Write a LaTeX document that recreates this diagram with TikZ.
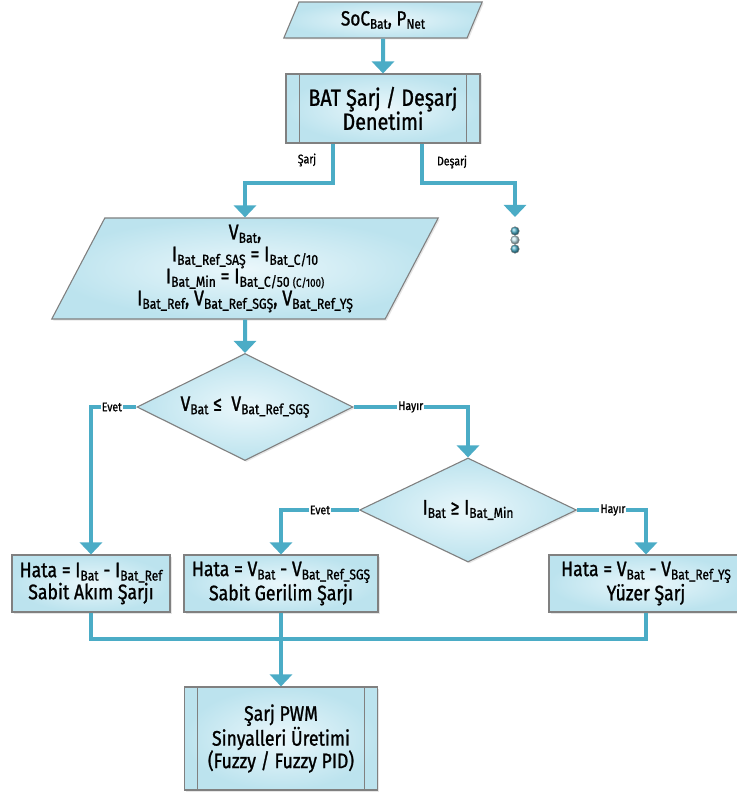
\documentclass[tikz,border=0pt]{standalone}
\usepackage{fontspec}
\setmainfont{Fira Sans}[FakeStretch=0.84, FakeBold=1.1]
\usetikzlibrary{arrows.meta,shapes.geometric,shadows}

\definecolor{flow}{HTML}{4BACC6}
\definecolor{edgegray}{HTML}{808080}
\definecolor{fillin}{HTML}{EAF7FB}
\definecolor{fillout}{HTML}{BCE3EE}

% small lowered subscript text
\newcommand\sbs[1]{\raisebox{-0.16em}{\scalebox{0.68}{#1}}}
\newcommand\fsz[2]{\fontsize{#1}{#2}\selectfont}

\begin{document}
\begin{tikzpicture}[x=1pt,y=-1pt,
  blk/.style={draw=edgegray, line width=1.1pt, inner color=fillin, outer color=fillout,
    drop shadow={opacity=0.2, shadow xshift=1.5pt, shadow yshift=-1.5pt},
    align=center, inner sep=0pt},
  procbox/.style={blk, rectangle, minimum width=194pt, minimum height=57pt, font=\fsz{21}{22}},
  subproc/.style={blk, rectangle, minimum width=194pt},
  iobox/.style={blk, trapezium, trapezium stretches=true},
  decision/.style={blk, diamond, aspect=2, font=\fsz{21}{24}},
  conn/.style={flow, line width=4pt, -{Triangle[width=22pt,length=12pt]}},
  joinline/.style={flow, line width=4pt},
  lbl/.style={font=\fsz{12.5}{14}, inner sep=1pt, fill=white, text=black},
]
\useasboundingbox (0,0) rectangle (736,794);

% input / output blocks
\node[iobox, trapezium left angle=67, trapezium right angle=113,
      minimum width=200pt, minimum height=36pt, font=\fsz{20.5}{22}]
      (src) at (383,20) {SoC\sbs{Bat}, P\sbs{Net}};

\node[subproc, minimum height=69pt, font=\fsz{23.5}{24}]
      (bat) at (383,108.5) {BAT Şarj / Deşarj\\Denetimi};
\draw[edgegray, line width=1pt]
  ([xshift=14pt]bat.north west) -- ([xshift=14pt]bat.south west)
  ([xshift=-14pt]bat.north east) -- ([xshift=-14pt]bat.south east);

\node[iobox, trapezium left angle=65, trapezium right angle=115,
      minimum width=387pt, minimum height=101pt, font=\fsz{21.3}{22}]
      (par) at (245,268.5)
  {V\sbs{Bat},\\
   I\sbs{Bat\_Ref\_SAŞ} = I\sbs{Bat\_C/10}\\
   I\sbs{Bat\_Min} = I\sbs{Bat\_C/50 \scalebox{0.8}{(C/100)}}\\
   I\sbs{Bat\_Ref}, V\sbs{Bat\_Ref\_SGŞ}, V\sbs{Bat\_Ref\_YŞ}};

% decisions
\node[decision, minimum width=216pt, minimum height=107pt]
      (d1) at (245,407) {V\sbs{Bat} ≤\ \ V\sbs{Bat\_Ref\_SGŞ}};
\node[decision, minimum width=217pt, minimum height=104pt]
      (d2) at (468,510) {I\sbs{Bat} ≥ I\sbs{Bat\_Min}};

% charging modes
\node[procbox, minimum width=158pt] (b1) at (91,583.5)
  {Hata = I\sbs{Bat} - I\sbs{Bat\_Ref}\\Sabit Akım Şarjı};
\node[procbox] (b2) at (281,583.5)
  {Hata = V\sbs{Bat} - V\sbs{Bat\_Ref\_SGŞ}\\Sabit Gerilim Şarjı};
\node[procbox] (b3) at (646,583.5)
  {Hata = V\sbs{Bat} - V\sbs{Bat\_Ref\_YŞ}\\Yüzer Şarj};

% PWM generation
\node[subproc, minimum width=193pt, minimum height=103pt, font=\fsz{21}{22.5}]
      (pwm) at (281,738.5) {Şarj PWM\\Sinyalleri Üretimi\\(Fuzzy / Fuzzy PID)};
\draw[edgegray, line width=1pt]
  ([xshift=14pt]pwm.north west) -- ([xshift=14pt]pwm.south west)
  ([xshift=-14pt]pwm.north east) -- ([xshift=-14pt]pwm.south east);

% discharge branch continuation
\coordinate (more) at (515,217);

% connectors
\draw[conn] (src.south) -- (bat.north);
\draw[conn] ([xshift=-50pt]bat.south) -- ++(0,39) -| (par.north);
\draw[conn] ([xshift=39pt]bat.south) -- ++(0,39) -| (more);
\node[lbl, fill=none] at (307,160) {Şarj};
\node[lbl, fill=none] at (452,162) {Deşarj};

\foreach \yy/\cc in {231/flow, 240/flow!35, 249/flow}
  \shade[ball color=\cc, draw=edgegray, line width=0.4pt] (515,\yy) circle (4.3pt);

\draw[conn] (par.south) -- (d1.north);
\draw[conn] (d1.west) -| (b1.north) node[lbl, pos=0.27] {Evet};
\draw[conn] (d1.east) -| (d2.north) node[lbl, pos=0.25] {Hayır};
\draw[conn] (d2.west) -| (b2.north) node[lbl, pos=0.25] {Evet};
\draw[conn] (d2.east) -| (b3.north) node[lbl, pos=0.26] {Hayır};

\draw[joinline] (b1.south) -- ++(0,26) -| (b3.south);
\draw[conn] (b2.south) -- (pwm.north);
\end{tikzpicture}
\end{document}
